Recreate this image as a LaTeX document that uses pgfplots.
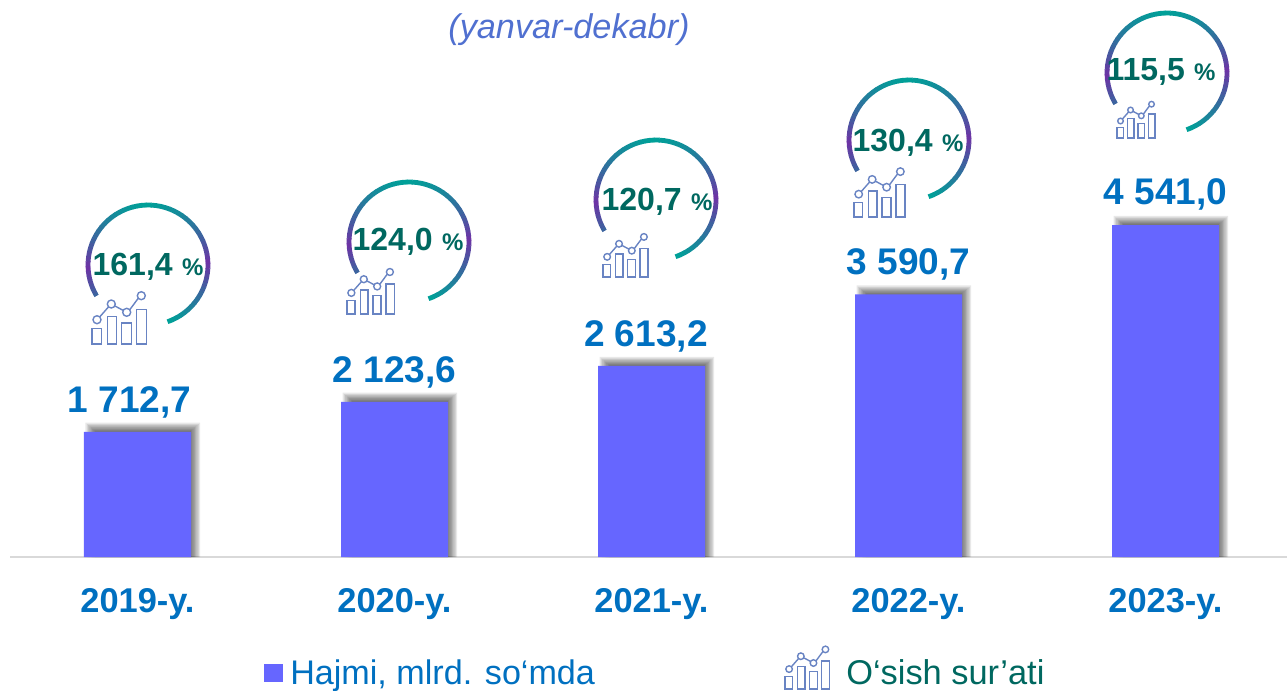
\documentclass[border=0pt]{standalone}
\usepackage{fontspec}
\setmainfont{Liberation Sans}
\usepackage{pgfplots}
\usepackage{pgfplotstable}
\pgfplotsset{compat=1.18}
\definecolor{barblue}{RGB}{102,102,255}
\definecolor{valblue}{RGB}{0,112,192}
\definecolor{darkteal}{RGB}{0,104,96}
\definecolor{arcteal}{RGB}{0,160,152}
\definecolor{arcpurple}{RGB}{110,50,165}
\definecolor{iconblue}{RGB}{105,132,195}
\definecolor{titleblue}{RGB}{80,112,208}
\newcommand\fs[1]{\fontsize{#1pt}{#1pt}\selectfont}
% dx, dy: hand placed label offsets, in pt
\pgfplotstableread{
x v lab dx dy
0 1712.7 {1 712,7} -6.0 0.8
1 2123.6 {2 123,6} 0.0 0.8
2 2613.2 {2 613,2} -4.2 0.8
3 3590.7 {3 590,7} 0.0 1.5
4 4541.0 {4 541,0} 0.0 2.2
}\hajmi
% picture is laid out in reference pixels: 1px = .75pt
\newcommand\shadowlayer[2]{%
  \addplot[ybar,bar width=#1pt,bar shift=4pt,draw=none,fill=black,fill opacity=0.09,forget plot]
    table[x=x,y expr=\thisrow{v}+#2] {\hajmi};}
\newcommand\icon[3]{%
  \begin{scope}[shift={(#1,#2)},scale=#3,yscale=-1,draw=iconblue,line width=1.05pt]
    \draw (0,0) rectangle (9.3,15.3);
    \draw (15.3,0) rectangle (24.3,27.7);
    \draw (29.7,0) rectangle (39.3,21);
    \draw (44.7,0) rectangle (54.3,34.3);
    \draw (5,24.3) circle (4) (19.3,40) circle (4) (34.7,31.7) circle (4) (49.3,48.3) circle (4);
    \draw (7.8,27.2)--(16.5,37.1) (22.8,38.1)--(31.2,33.6) (37.7,34.2)--(46.3,45.8);
  \end{scope}}
% #1,#2 circle centre
\newcommand\growtharc[2]{%
  \foreach \a in {-71,-66.5,...,211}{%
    \pgfmathsetmacro\b{\a+5}%
    \pgfmathsetmacro\t{abs(\a-90)/90}%
    \pgfmathsetmacro\u{1+\a/71}%
    \pgfmathsetmacro\p{\a<0 ? 100*\u*(.7+.3*\u) : (\a<=180 ? 100*\t*(.3+.7*\t) : 100-50*(\a-180)/31)}%
    \pgfmathsetmacro\bb{min(\b,211)}%
    \draw[line width=3.6pt,color=arcpurple!\p!arcteal]
      ({#1+60*cos(\a)},{#2-60*sin(\a)}) arc[start angle=-\a,end angle=-\bb,radius=60];
  }}
\newcommand\growthlabel[3]{%
  \node[anchor=center,inner sep=0pt,text=darkteal,font=\bfseries\fs{24}] at (#1,#2) {#3\,{\fs{18}\,\%}};}
\begin{document}
\begin{tikzpicture}
\path[use as bounding box] (0,0) rectangle (965.25pt,-517.5pt);
\begin{axis}[
  at={(7.5pt,-417.75pt)},anchor=south west,
  scale only axis,width=957.75pt,height=417.75pt,
  xmin=-0.4961,xmax=4.4728,ymin=0,ymax=7618.6,
  axis y line=none,axis x line=bottom,
  x axis line style={-,draw=black!15,line width=1.1pt},
  major tick length=0pt,
  xtick={0,1,2,3,4},
  xticklabels={2019-y.,2020-y.,2021-y.,2022-y.,2023-y.},
  xticklabel style={anchor=base,yshift=-41.5pt,text=valblue,font=\bfseries\fs{25.8}},
  clip mode=individual]
\shadowlayer{72}{15}
\shadowlayer{74}{30}
\shadowlayer{76}{45}
\shadowlayer{78}{60}
\shadowlayer{80}{75}
\shadowlayer{82}{90}
\shadowlayer{84}{105}
\shadowlayer{86}{125}
\addplot[ybar,bar width=80.25pt,bar shift=0pt,draw=none,fill=barblue,
  point meta=explicit symbolic,nodes near coords,
  visualization depends on={\thisrow{dx}\as\labdx},
  visualization depends on={\thisrow{dy}\as\labdy},
  every node near coord/.append style={anchor=base,xshift=\labdx pt,yshift=13.5pt+\labdy pt,inner sep=0pt,
    text=valblue,font=\bfseries\fs{27.8}}]
  table[x=x,y=v,meta=lab] {\hajmi};
\end{axis}
\begin{scope}[x=.75pt,y=-.75pt]
\node[inner sep=0pt,text=titleblue,font=\itshape\fs{25.7}] at (569,30) {(yanvar-dekabr)};
\growtharc{148}{265}
\growtharc{409}{242}
\growtharc{656}{200}
\growtharc{909}{140}
\growtharc{1167}{73}
\growthlabel{148}{267}{161,4}
\growthlabel{408}{242}{124,0}
\growthlabel{657}{202}{120,7}
\growthlabel{908}{143}{130,4}
\growthlabel{1161}{72}{115,5}
\icon{92}{344}{1}
\icon{347}{314}{.87}
\icon{603}{277}{.83}
\icon{854}{217}{.94}
\icon{1117}{138}{.7}
\icon{785}{689}{.82}
\fill[barblue] (264,664) rectangle (283,682);
\node[anchor=base west,inner sep=0pt,text=valblue,font=\fs{25.6}] at (290,684) {Hajmi, mlrd. so‘mda};
\node[anchor=base west,inner sep=0pt,text=darkteal,font=\fs{25.8}] at (846,684) {O‘sish sur’ati};
\end{scope}
\end{tikzpicture}
\end{document}
